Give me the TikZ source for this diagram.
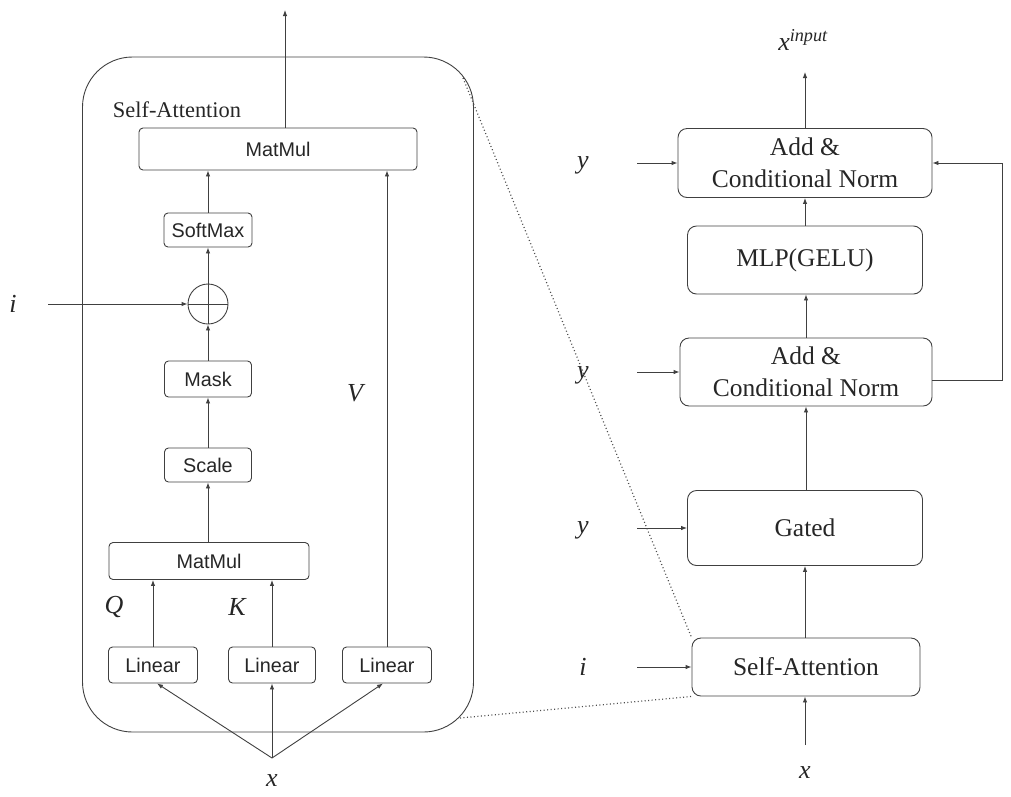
\documentclass[tikz,border=0pt]{standalone}
\usepackage{fontspec}
\setmainfont{Liberation Serif}
\newfontfamily\arialf{Liberation Sans}
\usetikzlibrary{arrows.meta,calc}
\begin{document}
\begin{tikzpicture}[x=1pt,y=-1pt,
  line width=0.9pt,
  color=black!75,
  arr/.style={-{Latex[length=6pt,width=4.5pt]}},
  sbox/.style={draw=black!75,rounded corners=4pt,inner sep=0pt,font=\arialf\fontsize{19.8}{22}\selectfont,text=black!85},
  rbox/.style={draw=black!75,rounded corners=9pt,inner sep=0pt,font=\fontsize{25.5}{32}\selectfont,text=black!85,align=center},
  lab/.style={inner sep=0pt,font=\fontsize{26}{30}\selectfont\itshape,text=black!85},
  title/.style={inner sep=0pt,font=\fontsize{22.4}{26}\selectfont,text=black!85},
  zoomline/.style={line width=1.2pt,dash pattern=on 1pt off 2.5pt,draw=black!70}]
\useasboundingbox (0,0) rectangle (1011,796);

% ---------- left: enlarged self-attention ----------
\node[draw=black!75,rounded corners=50pt,minimum width=391pt,minimum height=675pt,inner sep=0pt] (big) at (278,394.5) {};
\node[title] (satitle) at (177,110) {Self-Attention};

\node[sbox,minimum width=278pt,minimum height=42pt] (mm1) at (278,149) {MatMul};
\node[sbox,minimum width=88pt,minimum height=34pt] (soft) at (208,230) {SoftMax};
\node[draw=black!75,circle,minimum size=40pt,inner sep=0pt] (plus) at (208,304) {};
\node[sbox,minimum width=87pt,minimum height=36pt] (mask) at (208,379) {Mask};
\node[sbox,minimum width=87pt,minimum height=34pt] (scale) at (208,465) {Scale};
\node[sbox,minimum width=200pt,minimum height=37pt] (mm2) at (209,561) {MatMul};
\node[sbox,minimum width=89pt,minimum height=36pt] (lin1) at (153,665) {Linear};
\node[sbox,minimum width=87pt,minimum height=36pt] (lin2) at (272,665) {Linear};
\node[sbox,minimum width=89pt,minimum height=36pt] (lin3) at (387,665) {Linear};

\draw (plus.north) -- (plus.south);
\draw (plus.west) -- (plus.east);

\node[lab] (li) at (13,304) {i};
\node[lab] (lQ) at (114,607) {Q};
\node[lab] (lK) at (237,607) {K};
\node[lab] (lV) at (355,393) {V};
\node[lab] (lx) at (272,781) {x};

\coordinate (out1) at (285,10);
\coordinate (iL) at (48,304);
\coordinate (xj) at (272,758);

\draw[arr] (mm1.north -| out1) -- (out1);
\draw[arr] (soft.north) -- (soft.north |- mm1.south);
\draw[arr] (plus.north) -- (soft.south);
\draw[arr] (mask.north) -- (plus.south);
\draw[arr] (scale.north) -- (mask.south);
\draw[arr] (mm2.north -| scale) -- (scale.south);
\draw[arr] (lin1.north) -- (lin1.north |- mm2.south);
\draw[arr] (lin2.north) -- (lin2.north |- mm2.south);
\draw[arr] (lin3.north) -- (lin3.north |- mm1.south);
\draw[arr] (iL) -- (plus.west);
\draw[arr] (xj) -- ($(lin1.south)+(4,0)$);
\draw[arr] (xj) -- (lin2.south);
\draw[arr] (xj) -- ($(lin3.south)+(-4,0)$);

% ---------- right: block ----------
\node[rbox,minimum width=254pt,minimum height=69pt] (add2) at (805,163) {Add \&\\Conditional Norm};
\node[rbox,minimum width=235pt,minimum height=68pt] (mlp) at (805,260) {MLP(GELU)};
\node[rbox,minimum width=252pt,minimum height=68pt] (add1) at (806,372) {Add \&\\Conditional Norm};
\node[rbox,minimum width=235pt,minimum height=75pt] (gated) at (805,528) {Gated};
\node[rbox,minimum width=228pt,minimum height=58pt] (sa) at (806,667) {Self-Attention};

\node[lab] (ly2) at (583,165) {y};
\node[lab] (ly1) at (583,375) {y};
\node[lab] (lyg) at (583,530) {y};
\node[lab] (lis) at (583,667) {i};
\node[lab] (lxs) at (805,773) {x};
\node[lab] (lxin) at (803,40) {x$^{\mathit{input}}$};

\coordinate (xout) at (805,72);
\coordinate (xin) at (805,745);
\coordinate (y2s) at (637,163);
\coordinate (y1s) at (637,372);
\coordinate (ygs) at (637,528);
\coordinate (iss) at (637,667);
\coordinate (fb1) at (1002,380);
\coordinate (fb2) at (1002,163);

\draw[arr] (add2.north) -- (xout);
\draw[arr] (mlp.north) -- (add2.south -| mlp.north);
\draw[arr] (add1.north) -- (mlp.south -| add1.north);
\draw[arr] (gated.north -| add1.south) -- (add1.south);
\draw[arr] (sa.north -| gated.south) -- (gated.south);
\draw[arr] (xin) -- (sa.south -| xin);
\draw[arr] (y2s) -- (add2.west);
\draw[arr] (y1s) -- (add1.west);
\draw[arr] (ygs) -- (gated.west);
\draw[arr] (iss) -- (sa.west);
\draw[arr] (fb1 -| add1.east) -- (fb1) -- (fb2) -- (add2.east);

% ---------- zoom lines ----------
\coordinate (d1) at (463,78);
\coordinate (d2) at (460,718);
\draw[zoomline] (d1) -- (sa.north west);
\draw[zoomline] (d2) -- (sa.south west);
\end{tikzpicture}
\end{document}
